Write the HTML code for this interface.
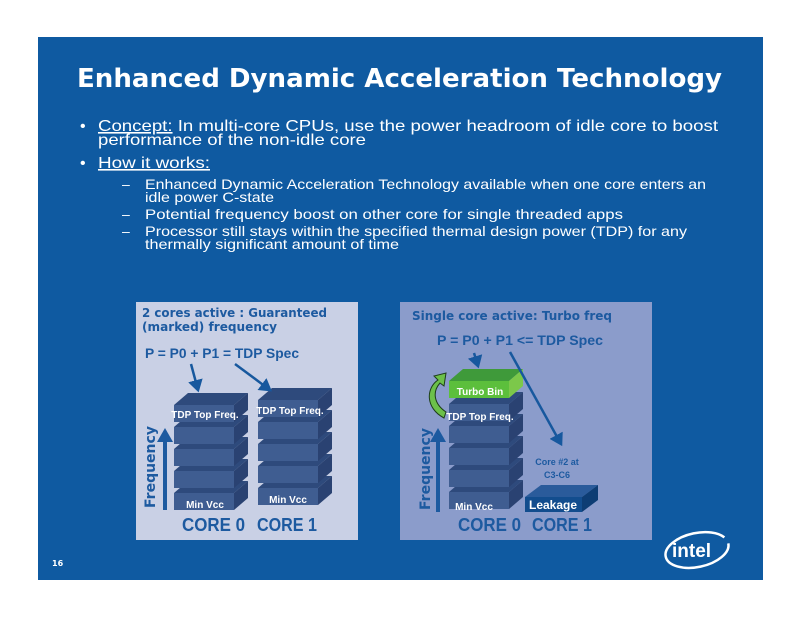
<!DOCTYPE html>
<html><head><meta charset="utf-8"><style>
body{margin:0;background:#fff;width:800px;height:618px;overflow:hidden;font-family:"Liberation Sans","DejaVu Sans",sans-serif}
</style></head><body>
<svg width="800" height="618" viewBox="0 0 800 618" xmlns="http://www.w3.org/2000/svg" font-family="'DejaVu Sans','Liberation Sans',sans-serif">
<defs>
<g id="slab">
<polygon points="0,0 14,-12 74,-12 60,0" fill="#2e4a7c"/>
<rect x="0" y="0" width="60" height="17" fill="#3f5d91"/>
<polygon points="60,0 74,-12 74,5 60,17" fill="#2a4272"/>
</g>
<g id="gslab">
<polygon points="0,0 14,-12 74,-12 60,0" fill="#3f9a3a"/>
<rect x="0" y="0" width="60" height="17" fill="#5cbf3c"/>
<polygon points="60,0 74,-12 74,5 60,17" fill="#7cc84a"/>
</g>
<marker id="ah" markerWidth="6" markerHeight="6" refX="4" refY="3" orient="auto" markerUnits="strokeWidth"><path d="M0,0 L5,3 L0,6 z" fill="#17589e"/></marker>
</defs>
<rect x="38" y="37" width="725" height="543" fill="#0f5aa1"/>
<text x="77" y="87" font-size="26" font-weight="bold" fill="#fff" textLength="645" lengthAdjust="spacingAndGlyphs">Enhanced Dynamic Acceleration Technology</text>
<g fill="#fff" font-size="16" font-family="'Liberation Sans',sans-serif">
<text x="80" y="131">•</text>
<text x="98" y="131" textLength="620" lengthAdjust="spacingAndGlyphs"><tspan text-decoration="underline">Concept:</tspan>  In multi-core CPUs, use the power headroom of idle core to boost</text>
<text x="98" y="145" textLength="268" lengthAdjust="spacingAndGlyphs">performance of the non-idle core</text>
<text x="80" y="168">•</text>
<text x="98" y="168" text-decoration="underline" textLength="112" lengthAdjust="spacingAndGlyphs">How it works:</text>
<g font-size="14">
<text x="122" y="189">–</text><text x="145" y="189" textLength="561" lengthAdjust="spacingAndGlyphs">Enhanced Dynamic Acceleration Technology available when one core enters an</text>
<text x="145" y="202" textLength="129" lengthAdjust="spacingAndGlyphs">idle power C-state</text>
<text x="122" y="219">–</text><text x="145" y="219" textLength="478" lengthAdjust="spacingAndGlyphs">Potential frequency boost on other core for single threaded apps</text>
<text x="122" y="236">–</text><text x="145" y="236" textLength="542" lengthAdjust="spacingAndGlyphs">Processor still stays within the specified thermal design power (TDP) for any</text>
<text x="145" y="249" textLength="254" lengthAdjust="spacingAndGlyphs">thermally significant amount of time</text>
</g>
</g>
<text x="52" y="566" font-size="8" font-weight="bold" fill="#fff">16</text>
<!-- left panel -->
<rect x="136" y="302" width="222" height="238" fill="#c9d0e5"/>
<text x="142" y="317" font-size="12" font-weight="bold" fill="#1d5aa0" textLength="185" lengthAdjust="spacingAndGlyphs">2 cores active : Guaranteed</text>
<text x="142" y="331" font-size="12" font-weight="bold" fill="#1d5aa0" textLength="135" lengthAdjust="spacingAndGlyphs">(marked) frequency</text>
<text x="145" y="358" font-size="14" font-weight="bold" fill="#1d5aa0" font-family="'Liberation Sans',sans-serif" textLength="154" lengthAdjust="spacingAndGlyphs">P = P0 + P1 = TDP Spec</text>
<use href="#slab" x="174" y="493"/><use href="#slab" x="174" y="471"/><use href="#slab" x="174" y="449"/><use href="#slab" x="174" y="427"/><use href="#slab" x="174" y="405"/>
<use href="#slab" x="258" y="488"/><use href="#slab" x="258" y="466"/><use href="#slab" x="258" y="444"/><use href="#slab" x="258" y="422"/><use href="#slab" x="258" y="400"/>
<g font-family="'Liberation Sans',sans-serif" font-weight="bold" fill="#fff" font-size="10" text-anchor="middle">
<text x="205" y="418">TDP Top Freq.</text><text x="290" y="414">TDP Top Freq.</text>
<text x="205" y="508">Min Vcc</text><text x="288" y="503">Min Vcc</text>
</g>
<line x1="191" y1="364" x2="198" y2="390" stroke="#17589e" stroke-width="2.5" marker-end="url(#ah)"/>
<line x1="235" y1="364" x2="270" y2="390" stroke="#17589e" stroke-width="2.5" marker-end="url(#ah)"/>
<rect x="163" y="440" width="4" height="70" fill="#1d5aa0"/><polygon points="157,442 165,428 173,442" fill="#1d5aa0"/>
<text transform="translate(155,508) rotate(-90)" font-size="14" font-weight="bold" fill="#1d5aa0">Frequency</text>
<text x="182" y="531" font-family="'Liberation Sans',sans-serif" font-size="18" font-weight="bold" fill="#1d5aa0" textLength="63" lengthAdjust="spacingAndGlyphs">CORE 0</text>
<text x="257" y="531" font-family="'Liberation Sans',sans-serif" font-size="18" font-weight="bold" fill="#1d5aa0" textLength="60" lengthAdjust="spacingAndGlyphs">CORE 1</text>
<!-- right panel -->
<rect x="400" y="302" width="252" height="238" fill="#8b9ccb"/>
<text x="412" y="320" font-size="12" font-weight="bold" fill="#1d5aa0" textLength="200" lengthAdjust="spacingAndGlyphs">Single core active: Turbo freq</text>
<text x="437" y="345" font-size="14" font-weight="bold" fill="#1d5aa0" font-family="'Liberation Sans',sans-serif" textLength="166" lengthAdjust="spacingAndGlyphs">P = P0 + P1 &lt;= TDP Spec</text>
<use href="#slab" x="449" y="492"/><use href="#slab" x="449" y="470"/><use href="#slab" x="449" y="448"/><use href="#slab" x="449" y="426"/><use href="#slab" x="449" y="404"/>
<use href="#gslab" x="449" y="381"/>
<polygon points="525,497 541,485 598,485 582,497" fill="#2a5b9b"/>
<rect x="525" y="497" width="57" height="15" fill="#124d8e"/>
<polygon points="582,497 598,485 598,500 582,512" fill="#0d3d74"/>
<g font-family="'Liberation Sans',sans-serif" font-weight="bold" fill="#fff" font-size="10" text-anchor="middle">
<text x="480" y="395">Turbo Bin</text><text x="480" y="420">TDP Top Freq.</text><text x="474" y="510">Min Vcc</text>
<text x="553" y="509" font-size="12">Leakage</text>
</g>
<text x="557" y="465" text-anchor="middle" font-family="'Liberation Sans',sans-serif" font-weight="bold" font-size="9" fill="#1d5aa0">Core #2 at</text>
<text x="557" y="478" text-anchor="middle" font-family="'Liberation Sans',sans-serif" font-weight="bold" font-size="9" fill="#1d5aa0">C3-C6</text>
<line x1="474" y1="353" x2="478" y2="366" stroke="#17589e" stroke-width="2.5" marker-end="url(#ah)"/>
<line x1="510" y1="352" x2="561" y2="444" stroke="#17589e" stroke-width="2.5" marker-end="url(#ah)"/>
<path d="M444,418 C425,408 426,388 438,380 L434,376 L446,373 L444,386 L440,383 C432,392 434,404 446,412 Z" fill="#6cc04a" stroke="#1d3d1a" stroke-width="1"/>
<rect x="436" y="440" width="4" height="72" fill="#1d5aa0"/><polygon points="430,442 438,428 446,442" fill="#1d5aa0"/>
<text transform="translate(430,510) rotate(-90)" font-size="14" font-weight="bold" fill="#1d5aa0">Frequency</text>
<text x="458" y="531" font-family="'Liberation Sans',sans-serif" font-size="18" font-weight="bold" fill="#1d5aa0" textLength="63" lengthAdjust="spacingAndGlyphs">CORE 0</text>
<text x="532" y="531" font-family="'Liberation Sans',sans-serif" font-size="18" font-weight="bold" fill="#1d5aa0" textLength="60" lengthAdjust="spacingAndGlyphs">CORE 1</text>
<!-- intel logo -->
<ellipse cx="697" cy="550" rx="32" ry="17" fill="none" stroke="#fff" stroke-width="2.5" transform="rotate(-12 697 550)" stroke-dasharray="150 30"/>
<text x="672" y="557" font-family="'Liberation Sans',sans-serif" font-weight="bold" font-size="19" fill="#fff">intel</text>
</svg>
</body></html>
